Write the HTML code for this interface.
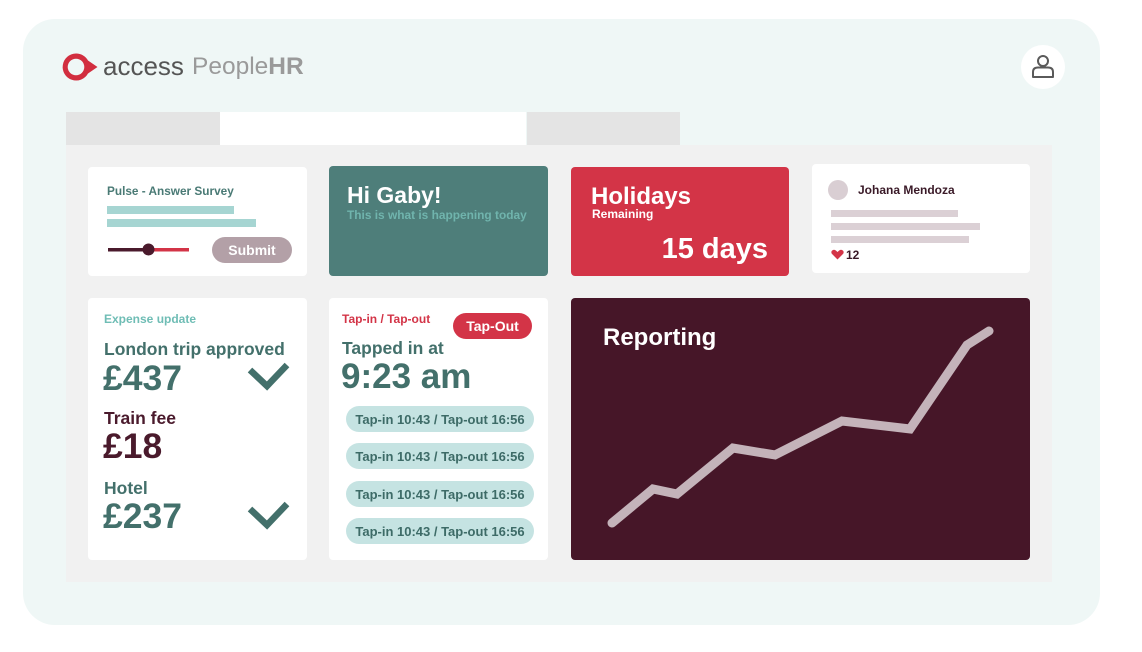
<!DOCTYPE html>
<html>
<head>
<meta charset="utf-8">
<style>
html,body{margin:0;padding:0;background:#fff;}
svg{display:block;}
text{font-family:"Liberation Sans",sans-serif;font-weight:bold;}
</style>
</head>
<body>
<svg width="1142" height="652" viewBox="0 0 1142 652" xmlns="http://www.w3.org/2000/svg">
  <rect x="0" y="0" width="1142" height="652" fill="#ffffff"/>
  <!-- outer frame -->
  <rect x="23" y="19" width="1077" height="606" rx="32" fill="#eff7f6"/>

  <!-- logo -->
  <path d="M76 53.5 A13.5 13.5 0 0 1 88 60.5 L97.5 67 L88 73.5 A13.5 13.5 0 1 1 76 53.5 Z" fill="#d22e3f"/>
  <circle cx="76" cy="67" r="8.3" fill="#eff7f6"/>
  <text x="103" y="75" font-size="26" fill="#555555" style="font-weight:normal">access</text>
  <text x="192" y="74" font-size="24.5" fill="#9a9a9a"><tspan style="font-weight:normal">People</tspan><tspan>HR</tspan></text>

  <!-- user icon -->
  <circle cx="1043" cy="67" r="22" fill="#ffffff"/>
  <circle cx="1043" cy="61" r="5" fill="none" stroke="#5a5a5a" stroke-width="2"/>
  <path d="M1033 77 L1033 72 Q1033 67.5 1038 67.5 L1048 67.5 Q1053 67.5 1053 72 L1053 77 Z" fill="none" stroke="#5a5a5a" stroke-width="2" stroke-linejoin="round"/>

  <!-- tabs -->
  <rect x="66" y="112" width="154" height="33" fill="#e4e4e4"/>
  <rect x="220" y="112" width="306" height="33" fill="#ffffff"/>
  <rect x="527" y="112" width="153" height="33" fill="#e4e4e4"/>

  <!-- gray panel -->
  <rect x="66" y="145" width="986" height="437" fill="#f1f1f1"/>

  <!-- Pulse card -->
  <rect x="88" y="167" width="219" height="109" rx="4" fill="#ffffff"/>
  <text x="107" y="195" font-size="11.8" fill="#4a7a75">Pulse - Answer Survey</text>
  <rect x="107" y="206" width="127" height="8" fill="#a6d5d2"/>
  <rect x="107" y="219" width="149" height="8" fill="#a6d5d2"/>
  <rect x="108" y="248" width="40" height="3.5" fill="#4a1a2c"/>
  <rect x="148" y="248" width="41" height="3.5" fill="#d33447"/>
  <circle cx="148.5" cy="249.5" r="6" fill="#4a1a2c"/>
  <rect x="212" y="237" width="80" height="26" rx="13" fill="#b3a0a7"/>
  <text x="252" y="255" font-size="14" fill="#ffffff" text-anchor="middle">Submit</text>

  <!-- Hi Gaby -->
  <rect x="329" y="166" width="219" height="110" rx="4" fill="#4e7e7a"/>
  <text x="347" y="203" font-size="23" fill="#ffffff">Hi Gaby!</text>
  <text x="347" y="219" font-size="11.9" fill="#70b4ad">This is what is happening today</text>

  <!-- Holidays -->
  <rect x="571" y="167" width="218" height="109" rx="4" fill="#d33447"/>
  <text x="591" y="204" font-size="24" fill="#ffffff">Holidays</text>
  <text x="592" y="218" font-size="12" fill="#ffffff">Remaining</text>
  <text x="768" y="258" font-size="29" fill="#ffffff" text-anchor="end">15 days</text>

  <!-- Johana -->
  <rect x="812" y="164" width="218" height="109" rx="4" fill="#ffffff"/>
  <circle cx="838" cy="190" r="10" fill="#d9ced3"/>
  <text x="858" y="194" font-size="12" fill="#3a1a28">Johana Mendoza</text>
  <rect x="831" y="210" width="127" height="7" fill="#dbd0d5"/>
  <rect x="831" y="223" width="149" height="7" fill="#dbd0d5"/>
  <rect x="831" y="236" width="138" height="7" fill="#dbd0d5"/>
  <path d="M837.5 259.5 L832.3 254.3 Q830.5 252.3 832 250.6 Q834 248.8 836 250.6 L837.5 252 L839 250.6 Q841 248.8 843 250.6 Q844.5 252.3 842.7 254.3 Z" fill="#d33447"/>
  <text x="846" y="259" font-size="12" fill="#3a1a28">12</text>

  <!-- Expense card -->
  <rect x="88" y="298" width="219" height="262" rx="4" fill="#ffffff"/>
  <text x="104" y="323" font-size="12" fill="#6fbdb5">Expense update</text>
  <text x="104" y="355" font-size="17.5" fill="#43706b">London trip approved</text>
  <text x="103" y="390" font-size="35.5" fill="#43706b">£437</text>
  <polyline points="250,370 267,386 287,365" fill="none" stroke="#43706b" stroke-width="6.5"/>
  <text x="104" y="424" font-size="17.5" fill="#4a1a2c">Train fee</text>
  <text x="103" y="458" font-size="35.5" fill="#4a1a2c">£18</text>
  <text x="104" y="494" font-size="17.5" fill="#43706b">Hotel</text>
  <text x="103" y="528" font-size="35.5" fill="#43706b">£237</text>
  <polyline points="250,509 267,525 287,504" fill="none" stroke="#43706b" stroke-width="6.5"/>

  <!-- Tap card -->
  <rect x="329" y="298" width="219" height="262" rx="4" fill="#ffffff"/>
  <text x="342" y="323" font-size="12" fill="#d33447">Tap-in / Tap-out</text>
  <rect x="453" y="313" width="79" height="26" rx="13" fill="#d33447"/>
  <text x="492.5" y="331" font-size="14" fill="#ffffff" text-anchor="middle">Tap-Out</text>
  <text x="342" y="354" font-size="17.5" fill="#43706b">Tapped in at</text>
  <text x="341" y="388" font-size="35" fill="#43706b">9:23 am</text>
  <rect x="346" y="406" width="188" height="26" rx="13" fill="#c5e3e2"/>
  <text x="440" y="424" font-size="13" fill="#3d6b67" text-anchor="middle">Tap-in 10:43 / Tap-out 16:56</text>
  <rect x="346" y="443" width="188" height="26" rx="13" fill="#c5e3e2"/>
  <text x="440" y="461" font-size="13" fill="#3d6b67" text-anchor="middle">Tap-in 10:43 / Tap-out 16:56</text>
  <rect x="346" y="481" width="188" height="26" rx="13" fill="#c5e3e2"/>
  <text x="440" y="499" font-size="13" fill="#3d6b67" text-anchor="middle">Tap-in 10:43 / Tap-out 16:56</text>
  <rect x="346" y="518" width="188" height="26" rx="13" fill="#c5e3e2"/>
  <text x="440" y="536" font-size="13" fill="#3d6b67" text-anchor="middle">Tap-in 10:43 / Tap-out 16:56</text>

  <!-- Reporting -->
  <rect x="571" y="298" width="459" height="262" rx="4" fill="#461628"/>
  <text x="603" y="345" font-size="24" fill="#ffffff">Reporting</text>
  <polyline points="612,523 653,489 677,494 733,448 775,455 842,421 910,429 967,345 989,331" fill="none" stroke="#c4b3ba" stroke-width="9" stroke-linecap="round" stroke-linejoin="miter"/>
</svg>
</body>
</html>
